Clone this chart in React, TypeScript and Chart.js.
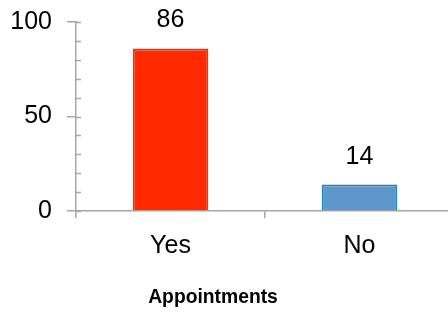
import React, { useEffect, useRef } from 'react';
import { Chart, registerables } from 'chart.js';

Chart.register(...registerables);

const categories = ['Yes', 'No'];
const values = [86, 14];
const barFill = ['#FF2A00', '#5E97CC'];
const barBorder = ['#FF2A00', '#1A83CF'];
const yTickValues = [0, 50, 100];
const minorTickValues = [0, 10, 20, 30, 40, 50, 60, 70, 80, 90, 100];
const axisTitle = 'Appointments';

const FONT = '"Liberation Sans", Arial, Helvetica, sans-serif';
const AXIS_COLOR = '#A6A6A6';
const TEXT_COLOR = '#000000';

const extrasPlugin = {
  id: 'extras',
  afterDraw(chart: any) {
    const ctx = chart.ctx;
    const area = chart.chartArea;
    const y = chart.scales.y;
    ctx.save();
    // minor ticks on inner side of y axis
    ctx.strokeStyle = AXIS_COLOR;
    ctx.lineWidth = 1.5;
    minorTickValues.forEach((v) => {
      const py = Math.round(y.getPixelForValue(v)) + 0.5;
      ctx.beginPath();
      ctx.moveTo(area.left, py);
      ctx.lineTo(area.left + 5, py);
      ctx.stroke();
    });
    // value labels
    ctx.fillStyle = TEXT_COLOR;
    ctx.font = `25px ${FONT}`;
    ctx.textAlign = 'center';
    ctx.textBaseline = 'alphabetic';
    const meta = chart.getDatasetMeta(0);
    meta.data.forEach((bar: any, i: number) => {
      ctx.fillText(String(values[i]), bar.x, bar.y - 21);
    });
    // axis title
    ctx.font = `bold 19.3px ${FONT}`;
    ctx.fillText(axisTitle, 213, 303);
    ctx.restore();
  },
};

export default function App() {
  const ref = useRef<HTMLCanvasElement | null>(null);
  useEffect(() => {
    if (!ref.current) return;
    const chart = new Chart(ref.current, {
      type: 'bar',
      data: {
        labels: categories,
        datasets: [
          {
            data: values,
            backgroundColor: barFill,
            borderColor: barBorder,
            borderWidth: 2,
            barPercentage: 0.8,
            categoryPercentage: 0.5,
          },
        ],
      },
      options: {
        responsive: false,
        animation: false,
        devicePixelRatio: 1,
        layout: { padding: { left: 0, top: 22, right: 2, bottom: 38 } },
        plugins: {
          legend: { display: false },
          tooltip: { enabled: false },
          title: { display: false },
        },
        scales: {
          x: {
            offset: true,
            grid: {
              display: true,
              drawOnChartArea: false,
              offset: true,
              tickLength: 7,
              color: AXIS_COLOR,
              lineWidth: 1.5,
            },
            border: { display: true, color: AXIS_COLOR, width: 1.5 },
            ticks: {
              color: TEXT_COLOR,
              font: { family: FONT, size: 25 },
              padding: 13.5,
            },
          },
          y: {
            min: 0,
            max: 100,
            afterBuildTicks: (s: any) => {
              s.ticks = yTickValues.map((v) => ({ value: v }));
            },
            afterFit: (s: any) => {
              s.width = 76;
              s.paddingTop = 0;
              s.paddingBottom = 0;
            },
            grid: {
              display: true,
              drawOnChartArea: false,
              tickLength: 9,
              color: AXIS_COLOR,
              lineWidth: 1.5,
            },
            border: { display: true, color: AXIS_COLOR, width: 1.5 },
            ticks: {
              color: TEXT_COLOR,
              font: { family: FONT, size: 25 },
              padding: 15,
            },
          },
        },
      },
      plugins: [extrasPlugin],
    });
    return () => chart.destroy();
  }, []);
  return (
    <div
      style={{
        position: 'fixed',
        left: 0,
        top: 0,
        width: 448,
        height: 313,
        overflow: 'hidden',
        background: '#ffffff',
      }}
    >
      <canvas ref={ref} width={456} height={313} style={{ display: 'block' }} />
    </div>
  );
}
